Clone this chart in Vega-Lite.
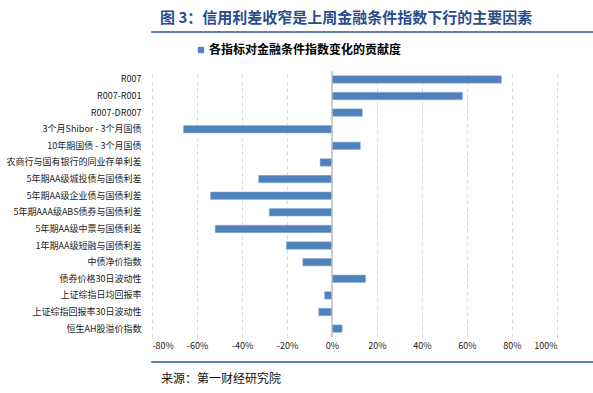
{
  "$schema": "https://vega.github.io/schema/vega-lite/v6.json",
  "padding": {"left": 5, "top": 10, "right": 5, "bottom": 0},
  "background": "white",
  "spacing": 11,
  "columns": 1,
  "align": "none",
  "resolve": {"legend": {"color": "independent"}},
  "config": {"font": "Noto Sans CJK SC", "view": {"stroke": null}},
  "datasets": {
    "bars": [
      {"indicator": "R007", "value": 75.3, "series": "各指标对金融条件指数变化的贡献度"},
      {"indicator": "R007-R001", "value": 58.0, "series": "各指标对金融条件指数变化的贡献度"},
      {"indicator": "R007-DR007", "value": 13.5, "series": "各指标对金融条件指数变化的贡献度"},
      {"indicator": "3个月Shibor - 3个月国债", "value": -66.0, "series": "各指标对金融条件指数变化的贡献度"},
      {"indicator": "10年期国债 - 3个月国债", "value": 12.6, "series": "各指标对金融条件指数变化的贡献度"},
      {"indicator": "农商行与国有银行的同业存单利差", "value": -5.3, "series": "各指标对金融条件指数变化的贡献度"},
      {"indicator": "5年期AA级城投债与国债利差", "value": -32.6, "series": "各指标对金融条件指数变化的贡献度"},
      {"indicator": "5年期AA级企业债与国债利差", "value": -54.0, "series": "各指标对金融条件指数变化的贡献度"},
      {"indicator": "5年期AAA级ABS债券与国债利差", "value": -27.9, "series": "各指标对金融条件指数变化的贡献度"},
      {"indicator": "5年期AA级中票与国债利差", "value": -51.9, "series": "各指标对金融条件指数变化的贡献度"},
      {"indicator": "1年期AA级短融与国债利差", "value": -20.3, "series": "各指标对金融条件指数变化的贡献度"},
      {"indicator": "中债净价指数", "value": -13.0, "series": "各指标对金融条件指数变化的贡献度"},
      {"indicator": "债券价格30日波动性", "value": 14.9, "series": "各指标对金融条件指数变化的贡献度"},
      {"indicator": "上证综指日均回报率", "value": -3.3, "series": "各指标对金融条件指数变化的贡献度"},
      {"indicator": "上证综指回报率30日波动性", "value": -5.9, "series": "各指标对金融条件指数变化的贡献度"},
      {"indicator": "恒生AH股溢价指数", "value": 4.5, "series": "各指标对金融条件指数变化的贡献度"}
    ],
    "zero": [{"value": 0}]
  },
  "concat": [
    {
      "width": 583,
      "height": 0.01,
      "view": {"stroke": "#2E5597", "strokeWidth": 1.5},
      "title": {"text": "图 3：信用利差收窄是上周金融条件指数下行的主要因素", "anchor": "start", "fontSize": 15, "fontWeight": "bold", "color": "#2A4C8C", "offset": 6, "dx": 8},
      "data": {"values": []},
      "mark": "point",
      "encoding": {}
    },
    {
      "width": 405,
      "height": 266,
      "layer": [
        {
          "data": {"name": "bars"},
          "mark": {"type": "bar", "color": "#4F81BD", "stroke": "#8FB0D8", "strokeWidth": 0.5},
          "encoding": {
            "y": {"field": "indicator", "type": "nominal", "sort": null,
              "scale": {"paddingInner": 0.55, "paddingOuter": 0.28},
              "axis": {"title": null, "ticks": false, "domain": false, "labelFontSize": 9, "labelColor": "#222222", "labelPadding": 11, "labelLimit": 200}},
            "x": {"field": "value", "type": "quantitative",
              "scale": {"domain": [-80, 100], "nice": false, "zero": false},
              "axis": {"title": null, "values": [-80, -60, -40, -20, 0, 20, 40, 60, 80, 100], "labelExpr": "datum.value + '%'", "labelFontSize": 9, "labelColor": "#222222", "labelPadding": 4, "ticks": false, "domain": false, "grid": true, "gridColor": "#D9D9D9", "gridDash": [4, 3], "gridWidth": 1}},
            "color": {"field": "series", "type": "nominal", "scale": {"range": ["#4F81BD"]},
              "legend": {"title": null, "orient": "none", "legendX": 43, "legendY": -27, "symbolType": "square", "symbolSize": 40, "symbolStrokeWidth": 0, "labelFontSize": 12, "labelFontWeight": "bold", "labelColor": "#000000", "labelOffset": 2, "labelLimit": 400}}
          }
        },
        {
          "data": {"name": "zero"},
          "mark": {"type": "rule", "color": "#BFBFBF", "strokeWidth": 1.5},
          "encoding": {"x": {"field": "value", "type": "quantitative"}}
        }
      ]
    },
    {
      "width": 583,
      "height": 0.01,
      "view": {"stroke": "#2E5597", "strokeWidth": 1.5},
      "title": {"text": "来源：第一财经研究院", "orient": "bottom", "anchor": "start", "fontSize": 12, "fontWeight": "normal", "color": "#111111", "offset": 12, "dx": 9},
      "data": {"values": []},
      "mark": "point",
      "encoding": {}
    }
  ]
}
